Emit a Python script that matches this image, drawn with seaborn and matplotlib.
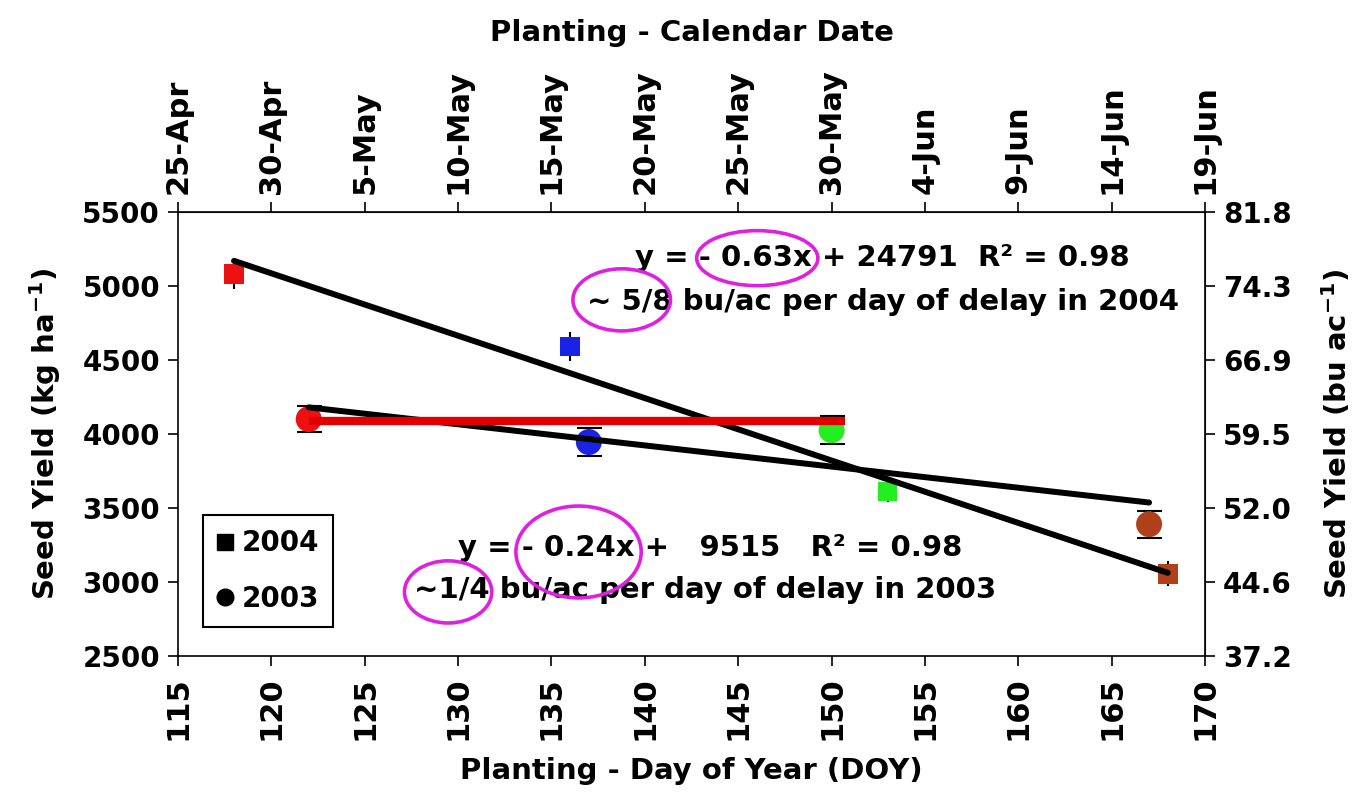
import numpy as np
import pandas as pd
import matplotlib
matplotlib.use('Agg')
import matplotlib.pyplot as plt
from matplotlib.patches import Ellipse
from matplotlib.lines import Line2D
import seaborn as sns

# planting day of year and seed yield (kg/ha)
doy_2004 = [118, 136, 153, 168]
yield_2004 = [5080, 4590, 3610, 3055]
err_2004 = [100, 100, 70, 85]

doy_2003 = [122, 137, 150, 167]
yield_2003 = [4100, 3945, 4025, 3390]
err_2003 = [90, 95, 95, 92]

# one colour per planting window (early -> late)
window_colors = ['#ee1111', '#1a22e6', '#22ee22', '#b0401a']

# red reference line drawn across the 2003 early/mid plantings
ref_doy = [122, 150.7]
ref_yield = 4085

doy_ticks = [115, 120, 125, 130, 135, 140, 145, 150, 155, 160, 165, 170]
date_labels = ['25-Apr', '30-Apr', '5-May', '10-May', '15-May', '20-May',
               '25-May', '30-May', '4-Jun', '9-Jun', '14-Jun', '19-Jun']
kg_ticks = [2500, 3000, 3500, 4000, 4500, 5000, 5500]
KG_PER_BU = 67.25

df04 = pd.DataFrame({'doy': doy_2004, 'yield': yield_2004, 'err': err_2004,
                     'window': range(4)})
df03 = pd.DataFrame({'doy': doy_2003, 'yield': yield_2003, 'err': err_2003,
                     'window': range(4)})

sns.set_style('white')
plt.rcParams['font.family'] = ['DejaVu Sans']
plt.rcParams['font.weight'] = 'bold'
plt.rcParams['mathtext.fontset'] = 'dejavusans'
plt.rcParams['mathtext.default'] = 'bf'
for key in ['text.color', 'axes.labelcolor', 'xtick.color', 'ytick.color']:
    plt.rcParams[key] = 'black'

YTICK_FS = 20
XTICK_FS = 22
LABEL_FS = 21

fig = plt.figure(figsize=(13.64, 7.94), dpi=100)
ax = fig.add_axes([0.1305, 0.174, 0.753, 0.559])

# error bars (behind markers)
ax.errorbar(df04['doy'], df04['yield'], yerr=df04['err'], fmt='none',
            ecolor='black', elinewidth=1.5, capsize=0, zorder=2)
ax.errorbar(df03['doy'], df03['yield'], yerr=df03['err'], fmt='none',
            ecolor='black', elinewidth=1.5, capsize=9, capthick=1.5, zorder=2)

sns.scatterplot(data=df04, x='doy', y='yield', hue='window', palette=window_colors,
                marker='s', s=200, linewidth=0, legend=False, ax=ax, zorder=3)
sns.scatterplot(data=df03, x='doy', y='yield', hue='window', palette=window_colors,
                marker='o', s=350, linewidth=0, legend=False, ax=ax, zorder=3)

# linear fits
sns.regplot(data=df04, x='doy', y='yield', scatter=False, ci=None, ax=ax,
            line_kws={'color': 'black', 'lw': 4.3, 'zorder': 4})
sns.regplot(data=df03, x='doy', y='yield', scatter=False, ci=None, ax=ax,
            line_kws={'color': 'black', 'lw': 4.3, 'zorder': 4})

ax.hlines(ref_yield, ref_doy[0], ref_doy[1], color='#e00000', lw=6, zorder=5)

ax.set_xlim(115, 170)
ax.set_ylim(2500, 5500)
ax.set_xticks(doy_ticks)
ax.set_yticks(kg_ticks)
ax.tick_params(axis='x', rotation=90, labelsize=XTICK_FS, direction='out', length=7,
               width=1.2, bottom=True, pad=8)
ax.tick_params(axis='y', labelsize=YTICK_FS, direction='out', length=7, width=1.2,
               left=True, pad=6)
for s in ax.spines.values():
    s.set_linewidth(1.2)
    s.set_color('black')
ax.set_xlabel('Planting - Day of Year (DOY)', fontsize=LABEL_FS, fontweight='bold',
              labelpad=12)
ax.set_ylabel('Seed Yield (kg ha$^{-1}$)', fontsize=LABEL_FS, fontweight='bold',
              labelpad=14)

# top axis: calendar date
top = ax.secondary_xaxis('top')
top.set_xticks(doy_ticks)
top.set_xticklabels(date_labels)
top.tick_params(axis='x', rotation=90, labelsize=XTICK_FS, direction='out', length=7,
                width=1.2, pad=6)
top.set_xlabel('Planting - Calendar Date', fontsize=LABEL_FS, fontweight='bold',
               labelpad=20)

# right axis: bu/ac
right = ax.secondary_yaxis('right', functions=(lambda y: y / KG_PER_BU,
                                               lambda b: b * KG_PER_BU))
right.set_yticks([k / KG_PER_BU for k in kg_ticks])
right.set_yticklabels([f'{k / KG_PER_BU:.1f}' for k in kg_ticks])
right.tick_params(axis='y', labelsize=YTICK_FS, direction='out', length=7, width=1.2, pad=6)
right.set_ylabel('Seed Yield (bu ac$^{-1}$)', fontsize=LABEL_FS, fontweight='bold',
                 labelpad=20)

# equations and notes
txt = dict(transform=ax.transAxes, ha='center', va='center', fontsize=21,
           fontweight='bold', zorder=6)
ax.text(0.686, 0.896, 'y = - 0.63x + 24791  R² = 0.98', **txt)
ax.text(0.686, 0.797, '~ 5/8 bu/ac per day of delay in 2004', **txt)
ax.text(0.518, 0.243, 'y = - 0.24x +   9515   R² = 0.98', **txt)
ax.text(0.513, 0.149, '~1/4 bu/ac per day of delay in 2003', **txt)

for cx, cy, w, h in [(0.564, 0.896, 0.118, 0.124), (0.432, 0.802, 0.095, 0.14),
                     (0.390, 0.234, 0.122, 0.207), (0.263, 0.144, 0.085, 0.14)]:
    ax.add_patch(Ellipse((cx, cy), w, h, transform=ax.transAxes, fill=False,
                         edgecolor='#e020e0', lw=2.6, zorder=7))

handles = [Line2D([], [], marker='s', color='black', ls='none', markersize=12),
           Line2D([], [], marker='o', color='black', ls='none', markersize=12)]
leg = ax.legend(handles, ['2004', '2003'], loc='lower left',
                bbox_to_anchor=(0.024, 0.065), borderaxespad=0, fancybox=False,
                frameon=True, edgecolor='black', framealpha=1, handlelength=0.6,
                handletextpad=0.3, labelspacing=1.0, borderpad=0.5,
                prop={'size': 20, 'weight': 'bold'})
leg.get_frame().set_linewidth(1.5)

fig.savefig('out.png', dpi=100)
